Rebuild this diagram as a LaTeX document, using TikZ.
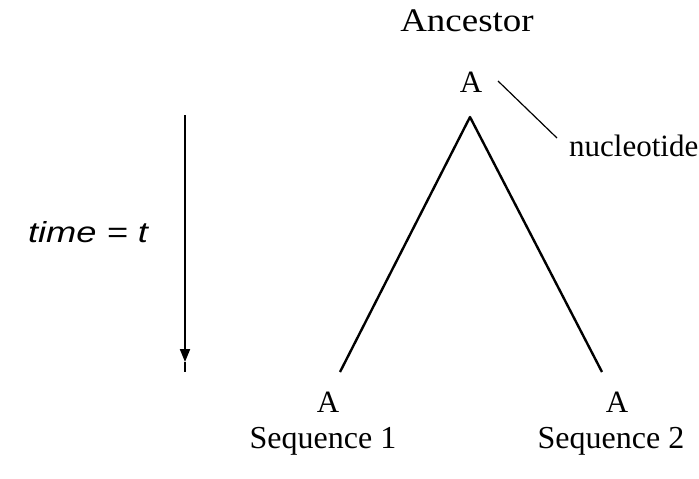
\documentclass[tikz,border=0pt]{standalone}
\usepackage{fontspec}
\setmainfont{Liberation Serif}
\newfontfamily\timefont{Liberation Sans}
\usetikzlibrary{arrows.meta}
\begin{document}
\begin{tikzpicture}[x=1pt,y=1pt,
  lbl/.style={inner sep=0pt,font=\fontsize{31}{34}\selectfont},
  tree/.style={line width=2.4pt,line join=round},
  thin/.style={line width=1.2pt}]
\useasboundingbox (0,0) rectangle (699,-479);
\node[lbl,font=\fontsize{33}{36}\selectfont,xscale=1.12] (anc) at (467,-21) {Ancestor};
\node[lbl] (top) at (471,-82) {A};
\node[lbl,anchor=west] (nuc) at (569,-146) {nucleotide};
\node[lbl] (l) at (328,-402) {A};
\node[lbl] (r) at (617,-402) {A};
\node[lbl,font=\fontsize{32}{35}\selectfont] (s1) at (323,-441) {Sequence 1};
\node[lbl,font=\fontsize{32}{35}\selectfont] (s2) at (611,-441) {Sequence 2};
\node[inner sep=0pt,xscale=1.25,font=\timefont\itshape\fontsize{29}{32}\selectfont] (time) at (88,-232) {time = t};
\coordinate (apex) at (470,-117);
\coordinate (le) at (340,-372);
\coordinate (re) at (602,-372);
\coordinate (n0) at (498,-81);
\coordinate (n1) at (557,-138);
\coordinate (t0) at (185,-115);
\coordinate (tm) at (185,-362);
\coordinate (t1) at (185,-372);
\draw[tree] (le) -- (apex) -- (re);
\draw[thin] (n0) -- (n1);
\draw[line width=2pt,-{Triangle[length=13pt,width=10pt]}] (t0) -- (tm);
\draw[line width=2pt] (tm) -- (t1);
\end{tikzpicture}
\end{document}
